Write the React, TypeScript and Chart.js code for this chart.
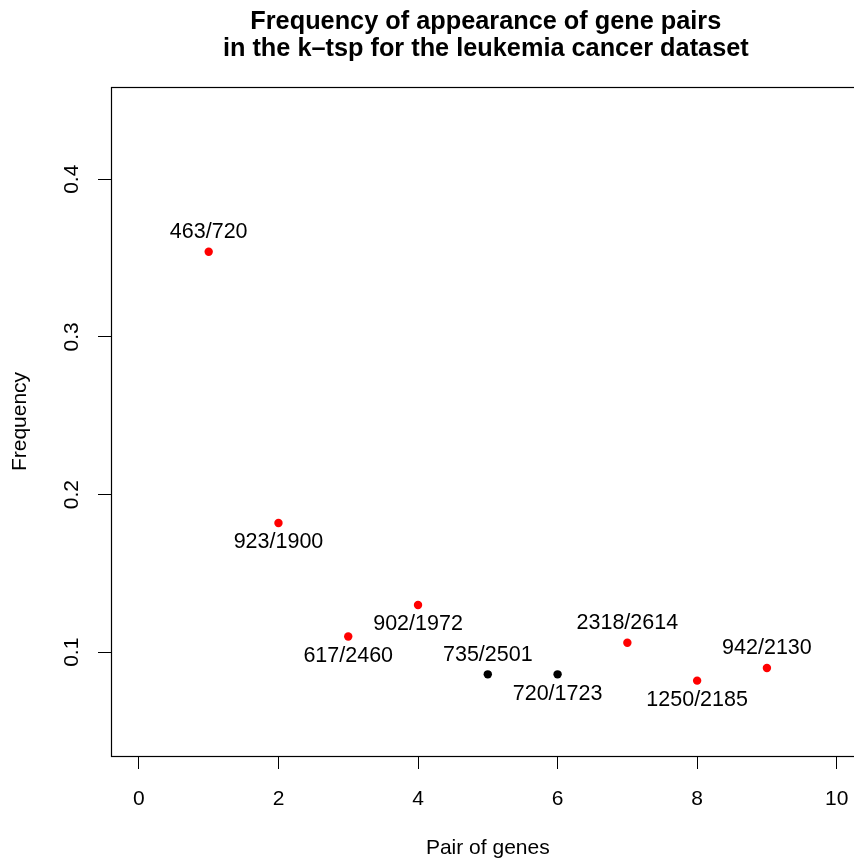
import React, { useEffect, useRef } from "react";
import { Chart, registerables } from "chart.js";

Chart.register(...registerables);

// Gene pair index, frequency of appearance and pair names
const pairIndex = [1, 2, 3, 4, 5, 6, 7, 8, 9];
const frequency = [0.354, 0.182, 0.11, 0.13, 0.086, 0.086, 0.106, 0.082, 0.09];
const pairNames = [
  "463/720",
  "923/1900",
  "617/2460",
  "902/1972",
  "735/2501",
  "720/1723",
  "2318/2614",
  "1250/2185",
  "942/2130",
];
const pointColors = ["red", "red", "red", "red", "black", "black", "red", "red", "red"];
// label placement relative to its point: -1 above, +1 below
const labelSide = [-1, 1, 1, 1, -1, 1, -1, 1, -1];

const xTickValues = [0, 2, 4, 6, 8, 10];
const yTickValues = [0.1, 0.2, 0.3, 0.4];

const titleLines = [
  "Frequency of appearance of gene pairs",
  "in the k\u2013tsp for the leukemia cancer dataset",
];
const xTitle = "Pair of genes";
const yTitle = "Frequency";

const FONT = "'Liberation Sans', Arial, Helvetica, sans-serif";

// plot frame drawn at the axis limits
const boxPlugin = {
  id: "plotBox",
  afterDraw(chart: any) {
    const { ctx } = chart;
    const xs = chart.scales.x;
    const ys = chart.scales.y;
    const l = Math.round(xs.getPixelForValue(xs.min)) + 0.5;
    const r = Math.round(xs.getPixelForValue(xs.max)) + 0.5;
    const t = Math.round(ys.getPixelForValue(ys.max)) + 0.5;
    const b = Math.round(ys.getPixelForValue(ys.min)) + 0.5;
    ctx.save();
    ctx.strokeStyle = "#000";
    ctx.lineWidth = 1.2;
    ctx.strokeRect(l, t, r - l, b - t);
    ctx.restore();
  },
};

const titlePlugin = {
  id: "twoLineTitle",
  afterDraw(chart: any) {
    const { ctx } = chart;
    const xs = chart.scales.x;
    const cx = (xs.getPixelForValue(xs.min) + xs.getPixelForValue(xs.max)) / 2 - 2;
    ctx.save();
    ctx.fillStyle = "#000";
    ctx.font = `bold 25.3px ${FONT}`;
    ctx.textAlign = "center";
    ctx.textBaseline = "alphabetic";
    ctx.fillText(titleLines[0], cx, 28.5);
    ctx.fillText(titleLines[1], cx, 55.5);
    ctx.restore();
  },
};

const pointLabelPlugin = {
  id: "pointLabels",
  afterDatasetsDraw(chart: any) {
    const { ctx } = chart;
    const meta = chart.getDatasetMeta(0);
    ctx.save();
    ctx.fillStyle = "#000";
    ctx.font = `21.5px ${FONT}`;
    ctx.textAlign = "center";
    ctx.textBaseline = "middle";
    meta.data.forEach((pt: any, i: number) => {
      ctx.fillText(pairNames[i], pt.x, pt.y + labelSide[i] * 19.5);
    });
    ctx.restore();
  },
};

export default function App() {
  const canvasRef = useRef<HTMLCanvasElement | null>(null);

  useEffect(() => {
    if (!canvasRef.current) return;
    const chart = new Chart(canvasRef.current, {
      type: "scatter",
      data: {
        datasets: [
          {
            data: pairIndex.map((x, i) => ({ x, y: frequency[i] })),
            pointBackgroundColor: pointColors,
            pointBorderWidth: 0,
            pointRadius: 4.2,
            showLine: false,
          },
        ],
      },
      options: {
        responsive: false,
        animation: false,
        events: [],
        layout: { padding: { left: 0, top: 87, right: 15.4, bottom: 0 } },
        plugins: {
          legend: { display: false },
          tooltip: { enabled: false },
          title: { display: false },
        },
        scales: {
          x: {
            type: "linear",
            min: -0.4,
            max: 10.4,
            afterBuildTicks: (scale: any) => {
              scale.ticks = xTickValues.map((v) => ({ value: v }));
            },
            afterFit: (scale: any) => {
              scale.height = 103;
            },
            grid: {
              drawOnChartArea: false,
              drawTicks: true,
              tickLength: 13,
              color: "#000",
              lineWidth: 1,
            },
            border: { display: false },
            ticks: {
              color: "#000",
              font: { family: FONT, size: 21, lineHeight: 1 },
              padding: 20,
              maxRotation: 0,
              autoSkip: false,
            },
            title: {
              display: true,
              text: xTitle,
              color: "#000",
              font: { family: FONT, size: 21, lineHeight: 1 },
              padding: { top: 0, bottom: 0.5 },
            },
          },
          y: {
            type: "linear",
            min: 0.0342,
            max: 0.4585,
            afterBuildTicks: (scale: any) => {
              scale.ticks = yTickValues.map((v) => ({ value: v }));
            },
            afterFit: (scale: any) => {
              scale.width = 111;
            },
            grid: {
              drawOnChartArea: false,
              drawTicks: true,
              tickLength: 13,
              color: "#000",
              lineWidth: 1,
            },
            border: { display: false },
            ticks: {
              color: "#000",
              font: { family: FONT, size: 21, lineHeight: 1 },
              padding: 11,
              minRotation: 90,
              maxRotation: 90,
              crossAlign: "center",
              autoSkip: false,
              callback: (v: any) => String(v),
            },
            title: {
              display: true,
              text: yTitle,
              color: "#000",
              font: { family: FONT, size: 21, lineHeight: 1 },
              padding: { top: 9.5, bottom: 0 },
            },
          },
        },
      },
      plugins: [boxPlugin, titlePlugin, pointLabelPlugin],
    });
    return () => chart.destroy();
  }, []);

  return (
    <div
      style={{
        position: "absolute",
        left: 0,
        top: 0,
        width: 854,
        height: 859,
        overflow: "hidden",
        background: "#fff",
      }}
    >
      <canvas ref={canvasRef} width={880} height={859} style={{ display: "block" }} />
    </div>
  );
}
